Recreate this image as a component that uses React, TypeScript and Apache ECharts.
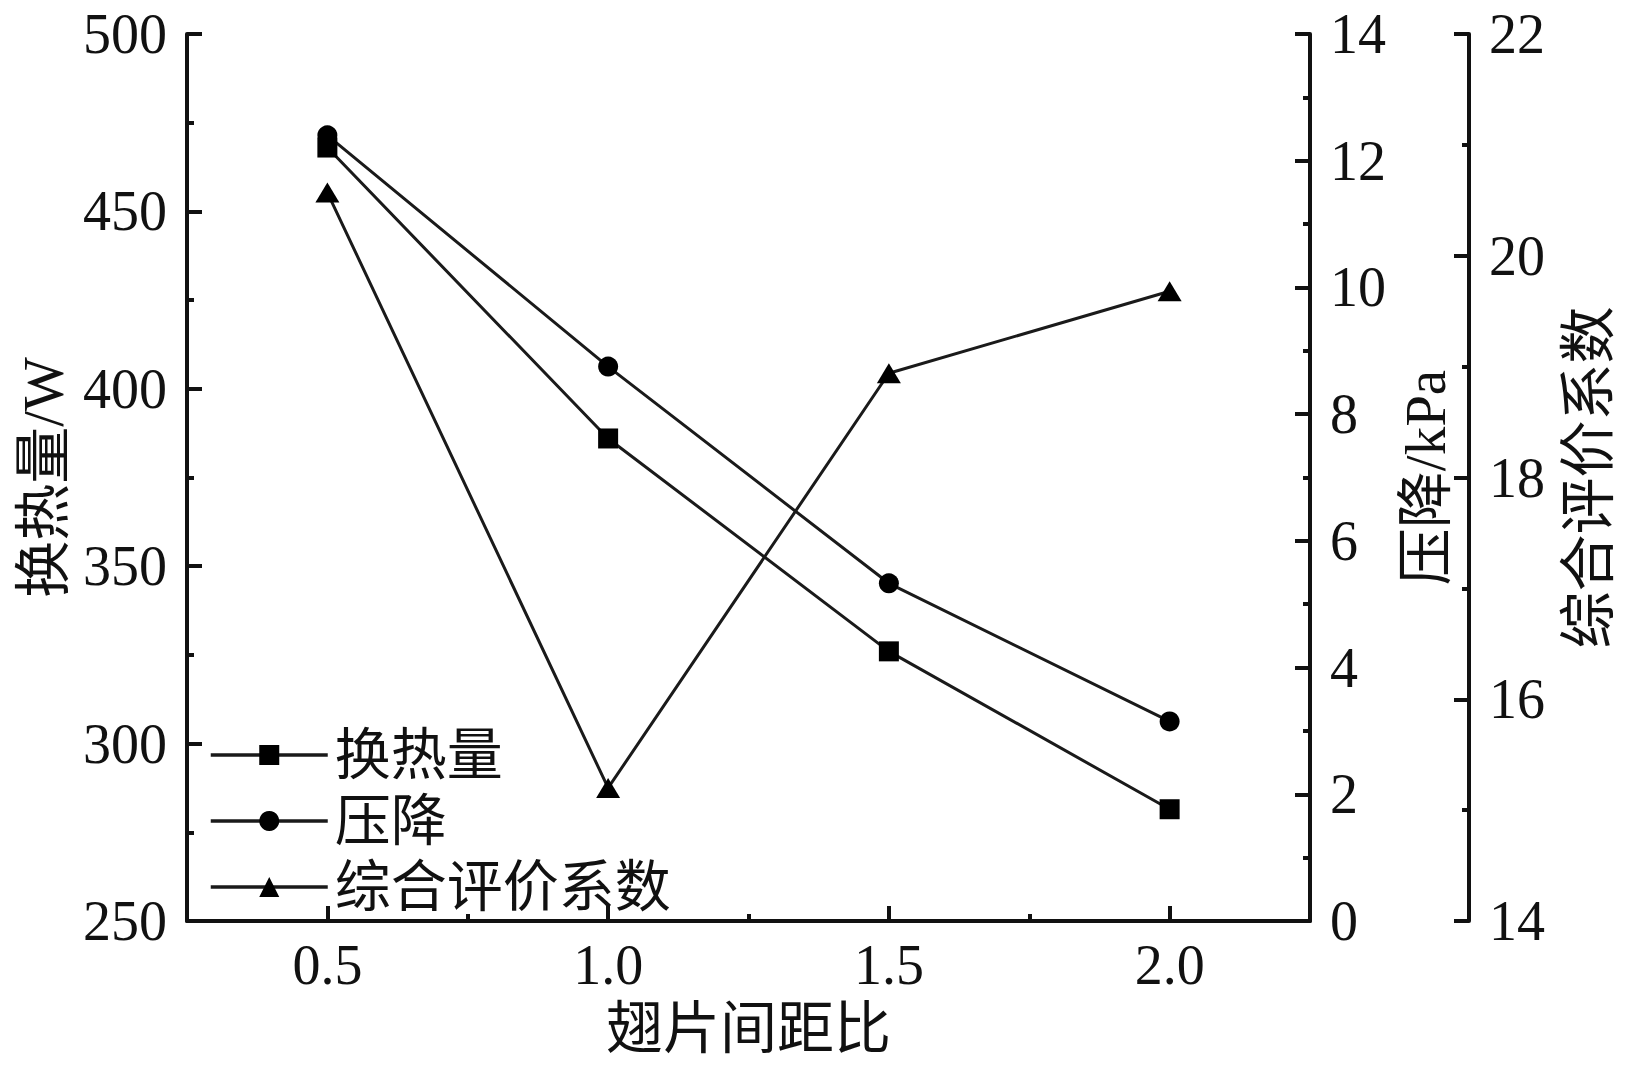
import React, { useEffect, useRef } from "react";
import * as echarts from "echarts";

const xValues = [0.5, 1.0, 1.5, 2.0];
const heatValues = [468, 386, 326, 281.5];
const pressureValues = [12.4, 8.75, 5.33, 3.15];
const indexValues = [20.57, 15.2, 18.94, 19.68];
const xMajorTicks = [0.5, 1.0, 1.5, 2.0];
const xMinorTicks = [0.75, 1.25, 1.75];
const seriesNames = ["换热量", "压降", "综合评价系数"];
const axisNames = ["翅片间距比", "换热量/W", "压降/kPa", "综合评价系数"];

const FONT = "'Liberation Serif', 'Times New Roman', 'Noto Sans CJK SC', serif";
const INK = "#111";
const LINE = "#1a1a1a";

export default function App() {
  const ref = useRef<HTMLDivElement>(null);
  useEffect(() => {
    if (!ref.current) return;
    const chart = echarts.init(ref.current, undefined, { renderer: "svg" });
    const label = { color: INK, fontFamily: FONT, fontSize: 56 };
    const nameStyle = { color: INK, fontFamily: FONT, fontSize: 57 };
    const axisLine = { show: true, lineStyle: { color: INK, width: 4 } };
    const tick = { show: true, inside: true, length: 15, lineStyle: { color: INK, width: 4 } };
    const minor = { show: true, splitNumber: 2, length: 7, lineStyle: { color: INK, width: 4 } };
    const pairs = (ys: number[]) => xValues.map((x, i) => [x, ys[i]]);
    chart.setOption({
      animation: false,
      backgroundColor: "#fff",
      grid: { left: 187, right: 317, top: 34, bottom: 144, containLabel: false },
      legend: {
        orient: "vertical",
        left: 204,
        top: 720,
        itemWidth: 117,
        itemHeight: 25,
        itemGap: 6,
        lineStyle: { color: LINE, width: 3.5 },
        textStyle: { ...label, lineHeight: 60, padding: [0, 0, 0, 2] },
        data: seriesNames,
      },
      xAxis: [
        {
          type: "value",
          min: 0.25,
          max: 2.25,
          position: "bottom",
          name: axisNames[0],
          nameLocation: "middle",
          nameGap: 79,
          nameTextStyle: nameStyle,
          axisLine: { ...axisLine, onZero: false },
          axisTick: { ...tick, customValues: xMajorTicks },
          axisLabel: {
            ...label,
            margin: 16,
            customValues: xMajorTicks,
            formatter: (v: number) => v.toFixed(1),
          },
          splitLine: { show: false },
        },
        {
          type: "value",
          min: 0.25,
          max: 2.25,
          position: "bottom",
          axisLine: { show: false, onZero: false },
          axisTick: { show: true, inside: true, length: 7, lineStyle: { color: INK, width: 4 }, customValues: xMinorTicks },
          axisLabel: { show: false },
          splitLine: { show: false },
        },
      ],
      yAxis: [
        {
          type: "value",
          min: 250,
          max: 500,
          interval: 50,
          position: "left",
          name: axisNames[1],
          nameLocation: "middle",
          nameRotate: 90,
          nameGap: 115,
          nameTextStyle: nameStyle,
          axisLine,
          axisTick: tick,
          minorTick: minor,
          axisLabel: { ...label, margin: 20 },
          splitLine: { show: false },
        },
        {
          type: "value",
          min: 0,
          max: 14,
          interval: 2,
          position: "right",
          name: axisNames[2],
          nameLocation: "middle",
          nameRotate: 90,
          nameGap: 62,
          nameTextStyle: nameStyle,
          axisLine,
          axisTick: tick,
          minorTick: minor,
          axisLabel: { ...label, margin: 20 },
          splitLine: { show: false },
        },
        {
          type: "value",
          min: 14,
          max: 22,
          interval: 2,
          position: "right",
          offset: 159,
          name: axisNames[3],
          nameLocation: "middle",
          nameRotate: 90,
          nameGap: 91,
          nameTextStyle: nameStyle,
          axisLine,
          axisTick: tick,
          minorTick: minor,
          axisLabel: { ...label, margin: 20 },
          splitLine: { show: false },
        },
      ],
      series: [
        {
          name: seriesNames[0],
          type: "line",
          yAxisIndex: 0,
          data: pairs(heatValues),
          symbol: "rect",
          symbolSize: 20,
          lineStyle: { color: LINE, width: 3 },
          itemStyle: { color: "#000" },
        },
        {
          name: seriesNames[1],
          type: "line",
          yAxisIndex: 1,
          data: pairs(pressureValues),
          symbol: "circle",
          symbolSize: 20,
          lineStyle: { color: LINE, width: 3 },
          itemStyle: { color: "#000" },
        },
        {
          name: seriesNames[2],
          type: "line",
          yAxisIndex: 2,
          data: pairs(indexValues),
          symbol: "triangle",
          symbolSize: [24, 20],
          lineStyle: { color: LINE, width: 3 },
          itemStyle: { color: "#000" },
        },
      ],
    });
    return () => chart.dispose();
  }, []);
  return (
    <div
      ref={ref}
      style={{ position: "fixed", left: 0, top: 0, width: 1627, height: 1065, background: "#fff" }}
    />
  );
}
